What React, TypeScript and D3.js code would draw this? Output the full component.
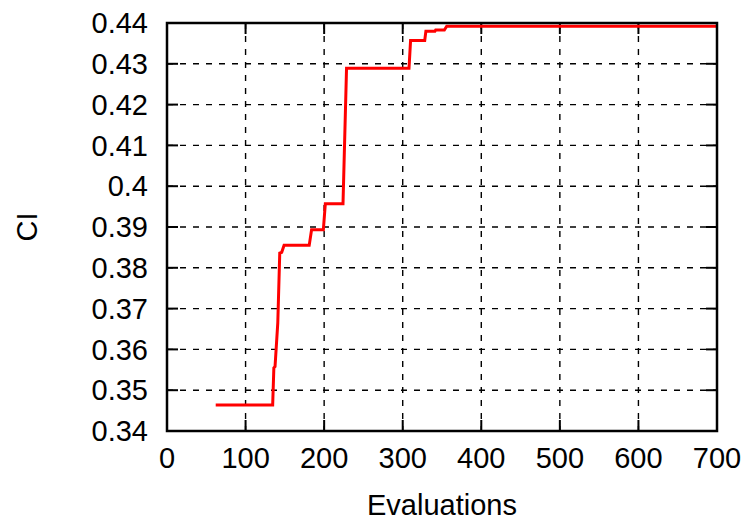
import * as d3 from "d3";

const evals = [
  62, 134.5, 136, 137.5, 141, 143.5, 146, 149, 181, 184, 199, 201.5, 224, 228.5,
  308, 310, 328, 329.5, 341, 342, 353, 356, 700,
];
const ci = [
  0.3464, 0.3464, 0.3555, 0.3558, 0.3665, 0.3836, 0.3838, 0.3855, 0.3855,
  0.3893, 0.3893, 0.3957, 0.3957, 0.4289, 0.4289, 0.4357, 0.4357, 0.438,
  0.438, 0.4383, 0.4383, 0.4392, 0.4392,
];
const xTicks = [0, 100, 200, 300, 400, 500, 600, 700];
const yTicks = [0.34, 0.35, 0.36, 0.37, 0.38, 0.39, 0.4, 0.41, 0.42, 0.43, 0.44];

const W = 750;
const H = 520;
const m = { left: 167, right: 33, top: 23, bottom: 89 };
const iw = W - m.left - m.right;
const ih = H - m.top - m.bottom;
const font = "'Liberation Sans', Arial, sans-serif";
const fs = 29;

export default function App() {
  const x = d3.scaleLinear().domain([0, 700]).range([0, iw]);
  const y = d3.scaleLinear().domain([0.34, 0.44]).range([ih, 0]);
  const pts = evals.map((e, i) => [e, ci[i]] as [number, number]);
  const line = d3
    .line<[number, number]>()
    .x((d) => x(d[0]))
    .y((d) => y(d[1]));
  const tick = 11;

  return (
    <svg
      width={W}
      height={H}
      style={{ position: "absolute", left: 0, top: 0, background: "#fff" }}
      fontFamily={font}
    >
      <g transform={`translate(${m.left},${m.top})`}>
        {/* grid */}
        {xTicks.slice(1, -1).map((t) => (
          <line
            key={"gx" + t}
            x1={x(t)}
            x2={x(t)}
            y1={0}
            y2={ih}
            stroke="#000"
            strokeWidth={1.4}
            strokeDasharray="6,7"
          />
        ))}
        {yTicks.slice(1, -1).map((t) => (
          <line
            key={"gy" + t}
            x1={0}
            x2={iw}
            y1={y(t)}
            y2={y(t)}
            stroke="#000"
            strokeWidth={1.4}
            strokeDasharray="6,7"
          />
        ))}
        {/* ticks */}
        {xTicks.map((t) => (
          <g key={"tx" + t} stroke="#000" strokeWidth={2}>
            <line x1={x(t)} x2={x(t)} y1={ih} y2={ih - tick} />
            <line x1={x(t)} x2={x(t)} y1={0} y2={tick} />
          </g>
        ))}
        {yTicks.map((t) => (
          <g key={"ty" + t} stroke="#000" strokeWidth={2}>
            <line x1={0} x2={tick} y1={y(t)} y2={y(t)} />
            <line x1={iw} x2={iw - tick} y1={y(t)} y2={y(t)} />
          </g>
        ))}
        {/* data */}
        <path
          d={line(pts) ?? ""}
          fill="none"
          stroke="#ff0000"
          strokeWidth={3}
          strokeLinejoin="miter"
        />
        <rect
          x={0}
          y={0}
          width={iw}
          height={ih}
          fill="none"
          stroke="#000"
          strokeWidth={2.5}
        />
        {/* labels */}
        {xTicks.map((t) => (
          <text
            key={"lx" + t}
            x={x(t)}
            y={ih + 37}
            textAnchor="middle"
            fontSize={fs}
            fill="#000"
          >
            {t}
          </text>
        ))}
        {yTicks.map((t) => (
          <text
            key={"ly" + t}
            x={-19}
            y={y(t)}
            dy="0.35em"
            textAnchor="end"
            fontSize={fs}
            fill="#000"
          >
            {String(+t.toFixed(2))}
          </text>
        ))}
        <text
          x={iw / 2}
          y={ih + 84}
          textAnchor="middle"
          fontSize={fs}
          fill="#000"
        >
          Evaluations
        </text>
        <text
          transform={`translate(${37 - m.left},${ih / 2}) rotate(-90)`}
          textAnchor="middle"
          fontSize={fs}
          fill="#000"
        >
          CI
        </text>
      </g>
    </svg>
  );
}
